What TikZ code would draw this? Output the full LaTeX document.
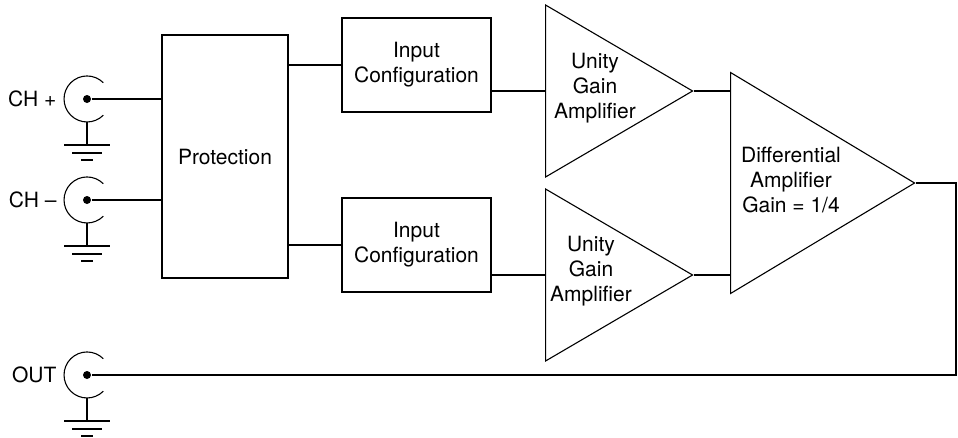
\documentclass[tikz,border=0pt]{standalone}
\usepackage{fontspec}
\setmainfont{TeX Gyre Heros}
\usetikzlibrary{shapes.geometric}

\begin{document}
\begin{tikzpicture}[x=1pt, y=-1pt, line width=1.1pt,
    every node/.style={font=\fontsize{21}{25}\selectfont},
    blk/.style={rectangle, draw, inner sep=0pt, align=center},
    amp/.style={isosceles triangle, isosceles triangle stretches, draw, inner sep=0pt, anchor=lower side},
    txt/.style={align=center, inner sep=0pt},
    jack/.style={circle, fill, inner sep=0pt, minimum size=8pt}]
    \useasboundingbox (0,0) rectangle (958,437);

    % blocks
    \node[blk, minimum width=126pt, minimum height=243pt](prot)at(225,156.5){Protection};
    \node[blk, minimum width=149pt, minimum height=94pt](cfg1)at(416.5,65){Input\\Configuration};
    \node[blk, minimum width=149pt, minimum height=94pt](cfg2)at(416.5,245){Input\\Configuration};

    % amplifiers (width = base, height = base to apex)
    \node[amp, minimum width=172pt, minimum height=147pt](uga1)at(545,91){};
    \node[amp, minimum width=172pt, minimum height=147pt](uga2)at(545,275){};
    \node[amp, minimum width=221pt, minimum height=184pt](diff)at(730,183){};
    \node[txt](uga1t)at(595,88){Unity\\Gain\\Amplifier};
    \node[txt](uga2t)at(591,271){Unity\\Gain\\Amplifier};
    \node[txt](difft)at(791,180){Differential\\Amplifier\\Gain = 1/4};

    % jacks with ground
    \foreach \n/\y/\t in {chp/99/CH +, chm/200/CH \textendash, out/375/OUT}{
        \node[jack](\n)at(87,\y){};
        \node[anchor=east, inner sep=0pt](\n-l)at(57,\y){\t};
        \draw (\n) ++(16.3pt,16.3pt) arc[start angle=45, end angle=315, radius=23pt];
        \draw (87,\y+23)--(87,\y+46)
            (64,\y+46)--(110,\y+46)
            (72,\y+54)--(102,\y+54)
            (81,\y+61)--(93,\y+61);
    }

    % wiring
    \draw
    (chp)--(chp -| prot.west)
    (chm)--(chm -| prot.west)
    (prot.east |- cfg1.west)--(cfg1.west)
    (prot.east |- cfg2.west)--(cfg2.west)
    (cfg1.east |- uga1.lower side)--(uga1.lower side)
    (cfg2.east |- uga2.lower side)--(uga2.lower side)
    (uga1.apex)--(uga1.apex -| diff.lower side)
    (uga2.apex)--(uga2.apex -| diff.lower side)
    (diff.apex)--++(40,0)|-(out)
    ;
\end{tikzpicture}
\end{document}
